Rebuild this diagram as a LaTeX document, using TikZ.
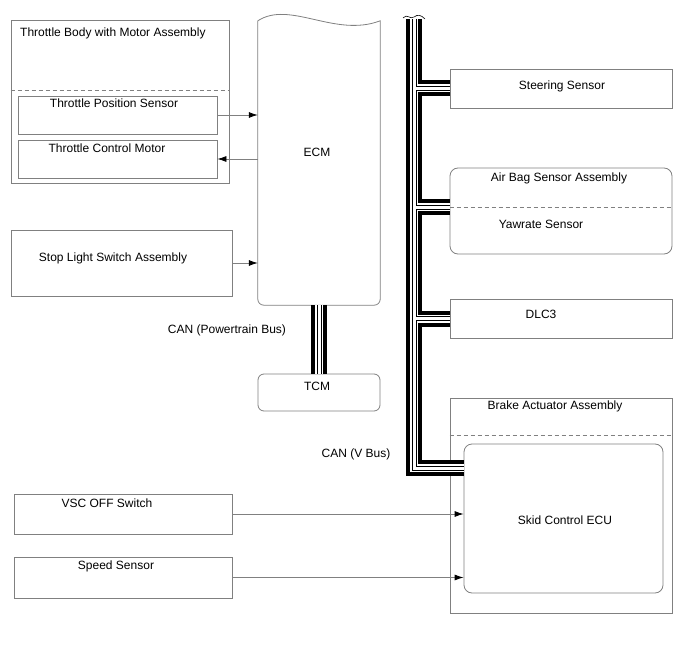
\documentclass[tikz,border=0pt]{standalone}
\usepackage{fontspec}
\setmainfont{Liberation Sans}
\usetikzlibrary{arrows.meta,positioning,calc}
\definecolor{linegray}{gray}{0.5}

\begin{document}
\begin{tikzpicture}[x=1pt,y=-1pt,>=Latex,
  box/.style={draw=linegray,line width=0.8pt,inner sep=0pt},
  rbox/.style={box,rounded corners=8pt},
  txt/.style={font=\fontsize{12}{14}\selectfont,inner sep=0pt},
  sig/.style={draw=linegray,line width=0.8pt,-{Latex[black,length=9pt,width=6pt]}},
  sep/.style={draw=linegray,line width=0.8pt,dash pattern=on 4pt off 3pt}]
  \useasboundingbox (0,0) rectangle (688,658);

  % throttle body
  \node[box,minimum width=218pt,minimum height=163pt] (thr) at (120,101.5) {};
  \node[txt,anchor=west] (thrT) at (20,33) {Throttle Body with Motor Assembly};
  \draw[sep] (thr.west |- 0,90) -- (thr.east |- 0,90);
  \node[box,minimum width=199pt,minimum height=38pt] (tps) at (117.5,115) {};
  \node[txt] (tpsT) at (114,103) {Throttle Position Sensor};
  \node[box,minimum width=199pt,minimum height=38pt] (tcmot) at (117.5,159) {};
  \node[txt] (tcmotT) at (107,148) {Throttle Control Motor};

  % ECM with torn top edge
  \node[inner sep=0pt,minimum width=122pt,minimum height=284pt] (ecm) at (319,163) {};
  \draw[linegray,line width=0.8pt] (ecm.north west) .. controls (290,0) and (335,38) .. (ecm.north east)
     [rounded corners=6pt] -- (ecm.south east) -- (ecm.south west) -- (ecm.north west);
  \node[txt] (ecmT) at (317,152) {ECM};

  \node[box,minimum width=221pt,minimum height=66pt] (stop) at (121.5,263) {};
  \node[txt] (stopT) at (113,258) {Stop Light Switch Assembly};

  \node[rbox,rounded corners=6pt,minimum width=122pt,minimum height=37pt] (tcm) at (319,392.5) {};
  \node[txt] (tcmT) at (317,386) {TCM};

  % V bus members
  \node[box,minimum width=222pt,minimum height=39pt] (steer) at (561,88.5) {};
  \node[txt] (steerT) at (562,86) {Steering Sensor};

  \node[rbox,minimum width=222pt,minimum height=86pt] (airbag) at (561,211) {};
  \draw[sep] (airbag.west |- 0,207) -- (airbag.east |- 0,207);
  \node[txt] (airbagT) at (559,178) {Air Bag Sensor Assembly};
  \node[txt] (yawT) at (541,224) {Yawrate Sensor};

  \node[box,minimum width=222pt,minimum height=39pt] (dlc) at (561,318.5) {};
  \node[txt] (dlcT) at (541,314) {DLC3};

  \node[box,minimum width=222pt,minimum height=215pt] (brake) at (561,505.5) {};
  \draw[sep] (brake.west |- 0,435) -- (brake.east |- 0,435);
  \node[txt] (brakeT) at (555,406) {Brake Actuator Assembly};
  \node[rbox,minimum width=199pt,minimum height=149pt] (skid) at (563.5,518.5) {};
  \node[txt] (skidT) at (565,520) {Skid Control ECU};

  % switches and sensors
  \node[box,minimum width=218pt,minimum height=40pt] (vsc) at (123,514) {};
  \node[txt] (vscT) at (107,503) {VSC OFF Switch};
  \node[box,minimum width=218pt,minimum height=41pt] (speed) at (123,577.5) {};
  \node[txt] (speedT) at (116,566) {Speed Sensor};

  \node[txt] (ptlbl) at (227,330) {CAN (Powertrain Bus)};
  \node[txt] (vlbl) at (356,454) {CAN (V Bus)};

  % signal lines
  \draw[sig] (tps.east) -- (ecm.west |- tps.east);
  \draw[sig] (ecm.west |- tcmot.east) -- (tcmot.east);
  \draw[sig] (stop.east) -- (ecm.west |- stop.east);
  \draw[sig] (vsc.east) -- (skid.west |- vsc.east);
  \draw[sig] (speed.east) -- (skid.west |- speed.east);

  % CAN buses, drawn as layered lines
  \coordinate (vtop) at (414,19);
  \coordinate (vbot) at (414,468);
  \coordinate (abtap) at (airbag.west |- 0,207);
  \foreach \w/\c in {16/black,8/white,5/black,3/white}{
    \draw[line width=\w pt,\c] (vtop) -- (vbot) -- (skid.west |- vbot);
    \draw[line width=\w pt,\c] (vtop |- steer.west) -- (steer.west);
    \draw[line width=\w pt,\c] (vtop |- abtap) -- (abtap);
    \draw[line width=\w pt,\c] (vtop |- dlc.west) -- (dlc.west);
    \draw[line width=\w pt,\c] (ecm.south) -- (tcm.north);
  }
  \draw[line width=0.6pt] (403,18) .. controls (407,13) and (410,20) .. (414,17)
     .. controls (418,14) and (421,15) .. (425,19);
\end{tikzpicture}
\end{document}
